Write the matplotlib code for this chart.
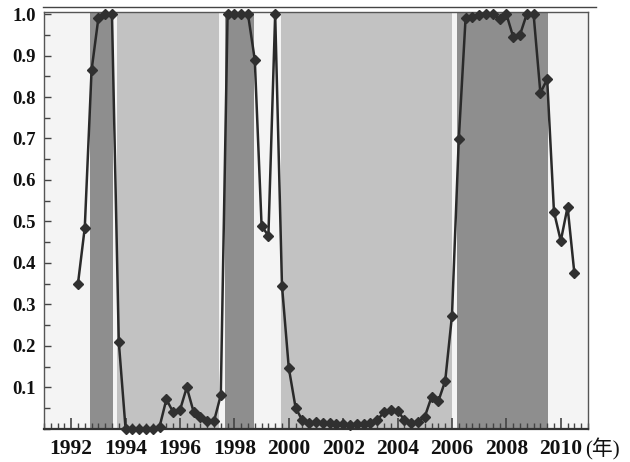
import matplotlib
matplotlib.use("Agg")
import matplotlib.pyplot as plt
from matplotlib.lines import Line2D
from matplotlib.ticker import MultipleLocator, FixedLocator
import numpy as np

plt.rcParams["font.family"] = ["Liberation Serif", "Noto Sans CJK SC", "DejaVu Serif"]

# quarterly observations, starting 1992.25 in steps of 0.25 yr
start_year = 1992.25
step = 0.25
prob = [
    0.35, 0.485, 0.865, 0.99, 1.0, 1.0, 0.21,
    0.0, 0.0, 0.0, 0.0, 0.0, 0.005,
    0.071, 0.04, 0.045, 0.10, 0.041, 0.029, 0.018, 0.018, 0.081,
    1.0, 1.0, 1.0, 1.0, 0.89, 0.49, 0.465, 1.0, 0.345,
    0.147, 0.051, 0.02, 0.015, 0.016, 0.014, 0.013, 0.012, 0.011, 0.01,
    0.011, 0.012, 0.013, 0.02, 0.041, 0.045, 0.044, 0.021, 0.013, 0.017,
    0.029, 0.077, 0.067, 0.115, 0.273, 0.698,
    0.99, 0.993, 0.997, 1.0, 1.0, 0.988, 1.0, 0.945, 0.95, 1.0, 1.0,
    0.81, 0.843, 0.523, 0.453, 0.535, 0.375,
]
years = start_year + step * np.arange(len(prob))

# regime shading (start, end, kind)
band_start = [1992.69, 1993.70, 1997.65, 1999.70, 2006.20]
band_end = [1993.52, 1997.45, 1998.72, 2006.00, 2009.53]
band_kind = ["dark", "light", "dark", "light", "dark"]
band_colors = {"dark": "#8e8e8e", "light": "#c2c2c2"}

xtick_vals = [1992, 1994, 1996, 1998, 2000, 2002, 2004, 2006, 2008, 2010]
ytick_vals = [0.1, 0.2, 0.3, 0.4, 0.5, 0.6, 0.7, 0.8, 0.9, 1.0]

fig = plt.figure(figsize=(6.3, 4.62), dpi=100)
ax = fig.add_axes([0.0698, 0.0719, 0.8635, 0.9021])
ax.set_facecolor("#f4f4f4")

for s, e, k in zip(band_start, band_end, band_kind):
    ax.axvspan(s, e, color=band_colors[k], lw=0, zorder=1)

ax.plot(years, prob, color="#2a2a2a", lw=1.8, marker="D", ms=5.5,
        mfc="#303030", mec="#303030", zorder=3, clip_on=False)

ax.set_xlim(1991, 2011)
ax.set_ylim(0, 1.005)

ax.xaxis.set_major_locator(FixedLocator(xtick_vals))
ax.xaxis.set_minor_locator(MultipleLocator(0.25))
ax.yaxis.set_major_locator(FixedLocator(ytick_vals))
ax.yaxis.set_minor_locator(MultipleLocator(0.05))
ax.set_xticklabels([str(v) for v in xtick_vals], fontsize=15.5, fontweight="bold",
                   color="#111111")
ax.set_yticklabels([f"{v:.1f}" for v in ytick_vals], fontsize=13.5, fontweight="bold",
                   color="#111111")

ax.tick_params(axis="x", which="major", direction="in", length=8, width=1.2,
               color="#444444", pad=7)
ax.tick_params(axis="x", which="minor", direction="in", length=4, width=1,
               color="#444444")
ax.tick_params(axis="y", which="major", direction="in", length=5, width=1,
               color="#444444", pad=6)
ax.tick_params(axis="y", which="minor", direction="in", length=4, width=1,
               color="#444444")

for side in ["left", "right", "top"]:
    ax.spines[side].set_color("#555555")
    ax.spines[side].set_linewidth(1.0)
ax.spines["bottom"].set_color("#333333")
ax.spines["bottom"].set_linewidth(1.6)

# year unit label at right end of x axis
fig.text(0.929, 0.027, "(年)", fontsize=15, color="#111111",
         ha="left", va="center")

# thin frame line across the top
fig.add_artist(Line2D([0.068, 0.946], [0.985, 0.985], transform=fig.transFigure,
                      color="#444444", lw=1.0))

fig.savefig("out.png", dpi=100, facecolor="white")
